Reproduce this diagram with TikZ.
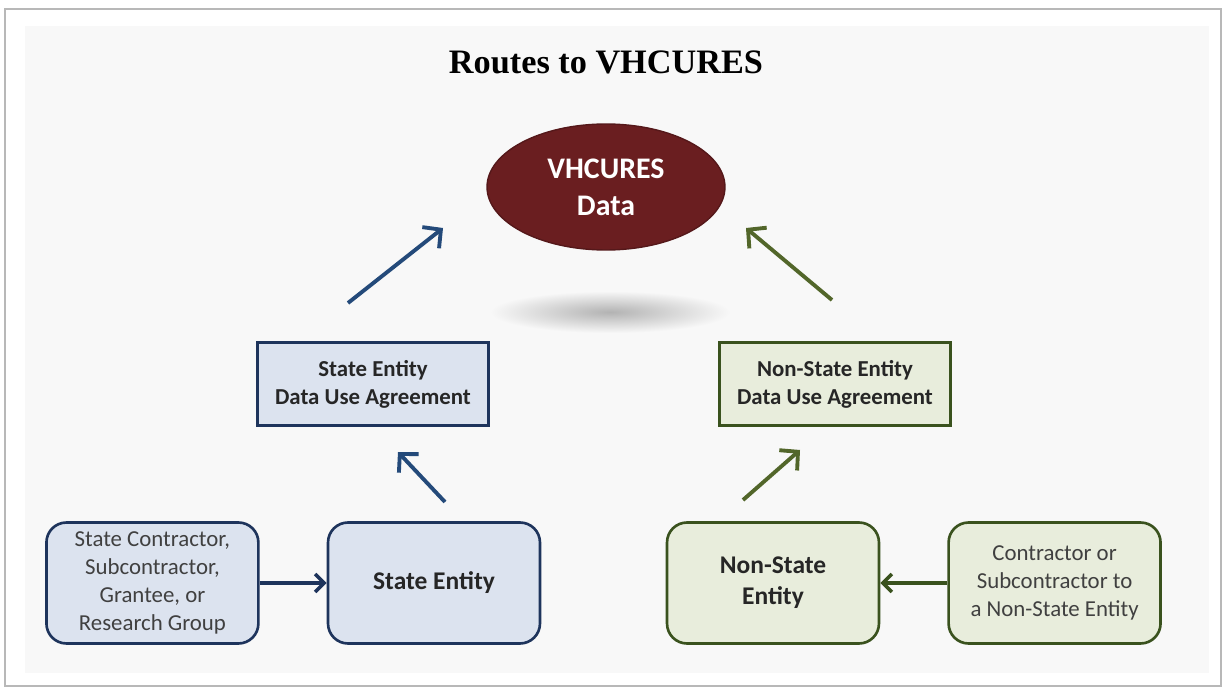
\documentclass[tikz,border=0pt]{standalone}
\usepackage{fontspec}
\setsansfont{Carlito}
\newfontfamily\titlefont{Liberation Serif}
\usetikzlibrary{shapes.geometric, positioning, arrows.meta}
\definecolor{vhmaroon}{RGB}{106,30,32}
\definecolor{statenavy}{RGB}{30,52,92}
\definecolor{statefill}{RGB}{220,227,239}
\definecolor{statearrow}{RGB}{36,74,122}
\definecolor{privolive}{RGB}{58,82,30}
\definecolor{privfill}{RGB}{232,237,220}
\definecolor{privarrow}{RGB}{82,102,42}
\definecolor{panelgray}{RGB}{248,248,248}
\tikzset{
  >={Straight Barb[length=2.6mm, width=5.4mm]}, % open heads on all connectors
  dua/.style={rectangle, line width=1.7pt, minimum width=4.64cm, minimum height=1.66cm, align=center, text=black!85, font=\sffamily\bfseries\fontsize{13}{16}\selectfont}, % agreement boxes
  party/.style={rectangle, rounded corners=0.4cm, line width=1.5pt, minimum width=4.24cm, minimum height=2.42cm, align=center, text=black!85, font=\sffamily\bfseries\fontsize{14.5}{17.5}\selectfont}, % entity boxes
  helper/.style={party, text=black!75, font=\sffamily\fontsize{13}{15.8}\selectfont}, % contractor boxes
  stateside/.style={draw=statenavy, fill=statefill}, % blue route
  privside/.style={draw=privolive, fill=privfill}, % green route
  bluearrow/.style={->, statearrow, line width=2.2pt},
  greenarrow/.style={->, privarrow, line width=2.2pt},
  sidearrow/.style={line width=2pt, -{Straight Barb[length=1.8mm, width=3.6mm]}},
}

\begin{document}
\begin{tikzpicture}[x=0.02cm, y=-0.02cm]
  \useasboundingbox (0,0) rectangle (1225,689);
  % frame and panel
  \fill[white] (0,0) rectangle (1225,689);
  \draw[black!28, line width=1.4pt] (5,9) rectangle (1221,686);
  \fill[panelgray] (25,26) rectangle (1209,673);

  \node[font=\titlefont\bfseries\fontsize{19.5}{22}\selectfont] (title) at (606,62) {Routes to VHCURES};

  % shadow under the data
  \shade[inner color=black!30, outer color=panelgray] (610,312) ellipse (2.4cm and 0.42cm);
  \node[ellipse, draw=vhmaroon!80!black, line width=0.8pt, fill=vhmaroon, minimum width=4.76cm, minimum height=2.52cm, inner sep=0pt, align=center, text=white, font=\sffamily\bfseries\fontsize{17}{21}\selectfont] (data) at (606,187) {VHCURES\\Data};

  \node[dua, stateside] (sdua) at (373,384) {State Entity\\Data Use Agreement};
  \node[dua, privside] (pdua) at (835,384) {Non-State Entity\\Data Use Agreement};

  \node[party, stateside] (se) at (434,583) {State Entity};
  \node[helper, stateside, left=1.34cm of se] (sc) {State Contractor,\\Subcontractor,\\Grantee, or\\Research Group};
  \node[party, privside] (pe) at (773,583) {Non-State\\Entity};
  \node[helper, privside, right=1.34cm of pe] (pc) {Contractor or\\Subcontractor to\\a Non-State Entity};

  \coordinate (b1s) at (445,502);
  \coordinate (b1e) at (398,452);
  \coordinate (b2s) at (348,303);
  \coordinate (b2e) at (443,228);
  \coordinate (g1s) at (743,500);
  \coordinate (g1e) at (800,450);
  \coordinate (g2s) at (832,300);
  \coordinate (g2e) at (746,228);

  \draw[bluearrow] (b1s) -- (b1e);
  \draw[bluearrow] (b2s) -- (b2e);
  \draw[greenarrow] (g1s) -- (g1e);
  \draw[greenarrow] (g2s) -- (g2e);
  \draw[sidearrow, statenavy] (sc) -- (se);
  \draw[sidearrow, privolive] (pc) -- (pe);
\end{tikzpicture}
\end{document}
